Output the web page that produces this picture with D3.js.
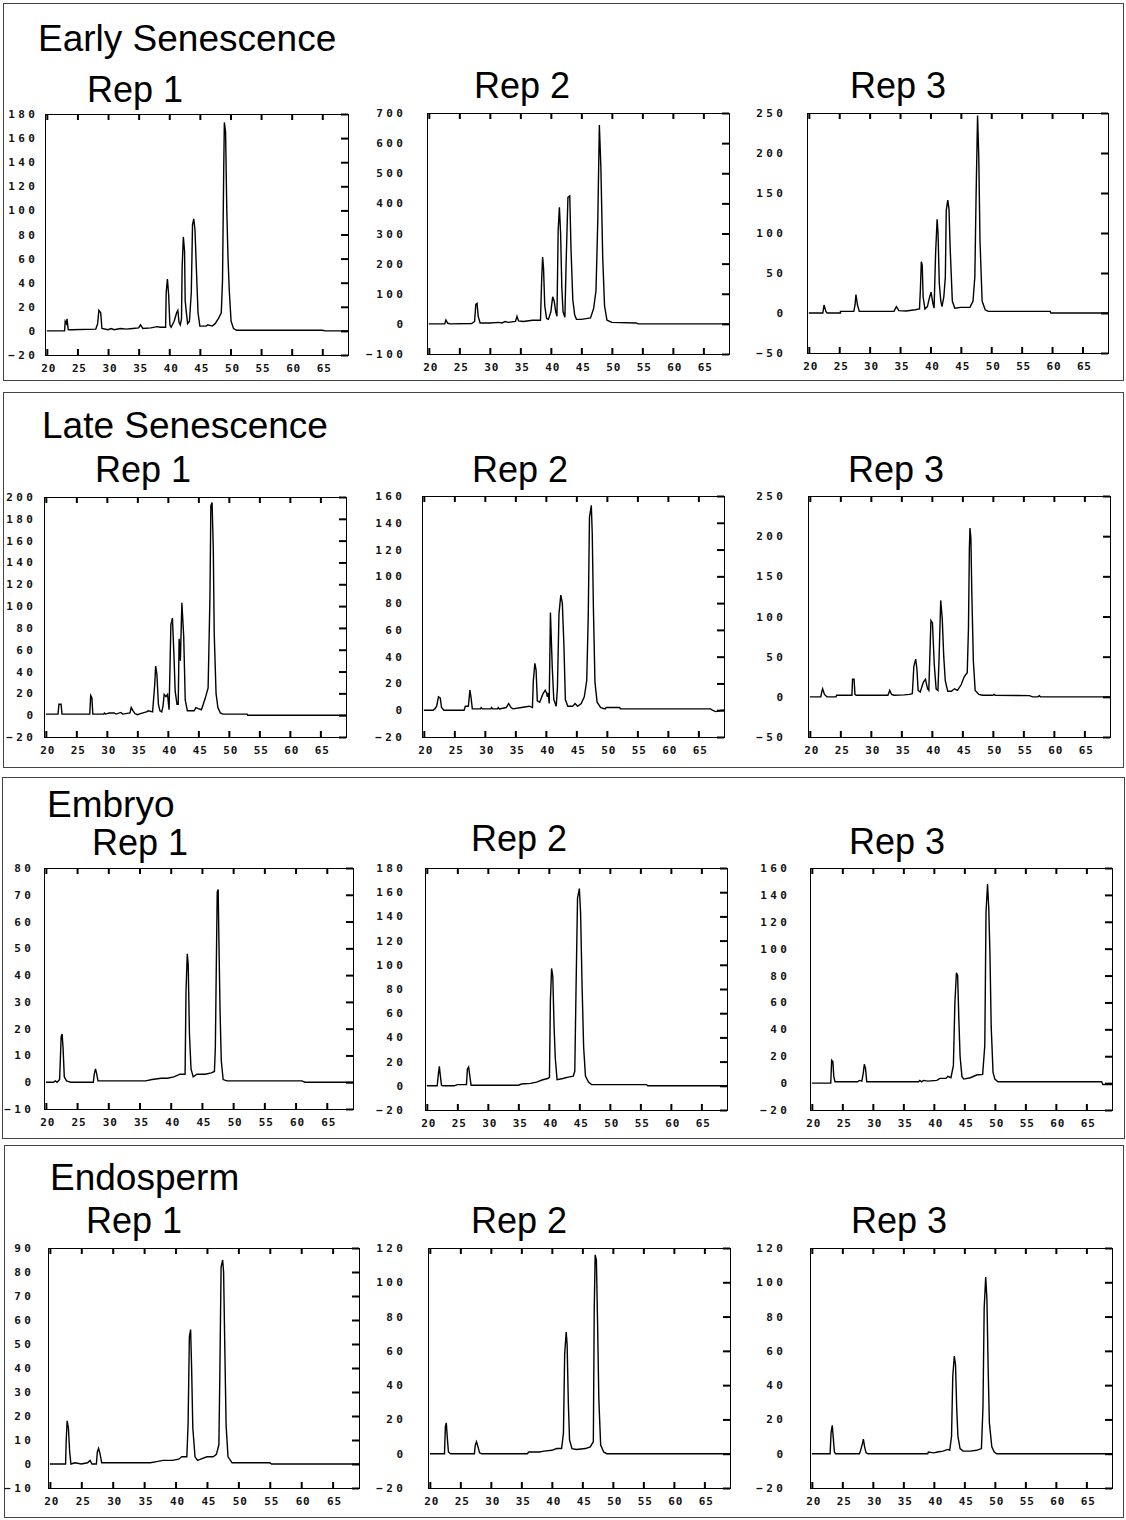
<!DOCTYPE html>
<html>
<head>
<meta charset="utf-8">
<script src="https://cdn.jsdelivr.net/npm/d3@7"></script>
<style>
  body { margin: 0; background: #fff; }
  svg { display: block; }
  .tick text { font-family: "DejaVu Sans Mono", monospace; font-size: 11px; font-weight: bold; fill: #111; }
  .title { font-family: "Liberation Sans", Arial, sans-serif; font-size: 36px; fill: #000; }
  .title.main { font-size: 37px; }
</style>
</head>
<body>
<svg width="1126" height="1520"></svg>
<script>
// Chromatograms: retention time (min) vs detector signal as [time, signal]

const panelTitles = ['Early Senescence', 'Late Senescence', 'Embryo', 'Endosperm'];
const repLabels = ['Rep 1', 'Rep 2', 'Rep 3'];
const xTicks = [20, 25, 30, 35, 40, 45, 50, 55, 60, 65];
const xDomain = [19.7, 69.2];

const yTicks = [
  [-20, 0, 20, 40, 60, 80, 100, 120, 140, 160, 180],
  [-100, 0, 100, 200, 300, 400, 500, 600, 700],
  [-50, 0, 50, 100, 150, 200, 250],
  [-20, 0, 20, 40, 60, 80, 100, 120, 140, 160, 180, 200],
  [-20, 0, 20, 40, 60, 80, 100, 120, 140, 160],
  [-50, 0, 50, 100, 150, 200, 250],
  [-10, 0, 10, 20, 30, 40, 50, 60, 70, 80],
  [-20, 0, 20, 40, 60, 80, 100, 120, 140, 160, 180],
  [-20, 0, 20, 40, 60, 80, 100, 120, 140, 160],
  [-10, 0, 10, 20, 30, 40, 50, 60, 70, 80, 90],
  [-20, 0, 20, 40, 60, 80, 100, 120],
  [-20, 0, 20, 40, 60, 80, 100, 120]
];

const earlyRep1 = [[20,0],[22.9,0],[23.0,8],[23.2,6],[23.3,10],[23.5,1],[24,1],[28,1.5],[28.3,6],[28.5,17],[28.8,15],[29,2],[30,1],[30.5,2],[31,1],[32,2],[33,1.5],[34,2],[35,2.5],[35.3,5],[35.7,2],[37,2.5],[38,3.5],[38.5,3],[39.4,3],[39.5,32],[39.7,43],[39.9,30],[40.1,5],[40.3,3],[40.8,8],[41.2,15],[41.4,17],[41.6,7],[41.8,5],[42.0,10],[42.1,52],[42.3,78],[42.5,66],[42.6,25],[42.8,15],[43.0,6],[43.3,8],[43.6,32],[43.8,88],[44.0,93],[44.2,84],[44.4,56],[44.7,15],[45,4],[46,4],[46.3,5],[47,4],[47.5,6],[48,10],[48.5,15],[48.7,42],[48.9,135],[49.0,173],[49.2,165],[49.4,100],[49.6,60],[49.8,34],[50.1,8],[50.5,2],[51,0.5],[55,0.5],[65,0.5],[65.5,0],[69.2,0]];
const earlyRep2 = [[20,0],[22.6,0],[22.8,13],[23.1,2],[23.5,0],[27,1],[27.5,8],[27.7,65],[27.9,68],[28.1,25],[28.4,3],[30,3],[31.5,5],[32,3],[32.5,8],[33,5],[34.2,8],[34.45,25],[34.7,10],[35.5,8],[37,12],[38.3,12],[38.5,150],[38.65,222],[38.8,185],[39.0,60],[39.3,18],[39.6,15],[40.0,40],[40.3,90],[40.55,75],[40.8,40],[41.0,25],[41.2,310],[41.4,387],[41.6,300],[41.8,120],[42.0,40],[42.3,22],[42.5,200],[42.8,420],[43.1,425],[43.3,250],[43.6,80],[43.9,30],[44.2,15],[45,15],[46.5,20],[47,50],[47.4,110],[47.7,350],[47.95,660],[48.2,520],[48.5,220],[48.8,60],[49.2,12],[50,5],[54,3],[54.3,0],[69.2,0]];
const earlyRep3 = [[20,0],[22.3,0],[22.5,10],[22.8,2],[23,0],[25.2,0],[25.2,2],[27.4,2],[27.6,10],[27.75,23],[28.0,10],[28.3,2],[34,2],[34.4,8],[34.8,3],[36,2.5],[37.5,4],[38.2,5],[38.35,30],[38.5,64],[38.65,60],[38.8,20],[39.1,5],[39.5,8],[39.8,18],[40.1,26],[40.4,12],[40.6,6],[40.85,75],[41.1,117],[41.25,100],[41.45,38],[41.7,15],[41.9,8],[42.2,20],[42.45,45],[42.6,128],[42.85,141],[43.05,130],[43.25,80],[43.6,15],[44,6],[45,7],[46.5,7],[47,15],[47.3,45],[47.5,143],[47.75,247],[47.95,195],[48.15,90],[48.5,15],[49,4],[49.5,2],[59.7,2],[59.8,0],[69.2,0]];

const lateRep1 = [[20,1],[22.0,1],[22.15,10],[22.5,10],[22.65,1],[27.2,1],[27.35,18],[27.55,16],[27.7,1],[29.5,1],[29.6,2],[29.8,1],[30.4,2],[31.2,2],[31.5,1],[32.3,2.5],[32.6,1],[33.8,2],[34.0,7],[34.3,4],[34.6,1.5],[35.0,0.5],[35.5,1.5],[36.5,3],[36.8,4],[37.5,3],[37.85,28],[38.0,45],[38.2,38],[38.45,10],[38.7,4],[39.0,3],[39.2,8],[39.4,19],[39.7,17],[39.95,19],[40.2,5],[40.5,83],[40.75,89],[41.0,55],[41.2,22],[41.5,10],[41.7,10],[41.85,70],[42.05,50],[42.3,103],[42.6,72],[42.85,14],[43.2,4],[44.3,4],[44.6,7],[45,6],[45.5,5],[46.1,15],[46.6,25],[46.9,108],[47.05,192],[47.25,195],[47.45,152],[47.6,75],[47.9,20],[48.2,7],[48.6,2],[49,1],[53,1],[53.1,0],[69.2,0]];
const lateRep2 = [[20,0],[21.5,0],[21.8,1],[22.1,3],[22.4,10],[22.7,9],[22.9,2],[23.3,0],[26.6,0],[26.8,3],[27.3,3],[27.55,15],[27.75,9],[27.95,1],[29.3,1],[29.4,2],[29.6,1],[31,1],[31.1,2],[31.3,1],[32.1,1],[32.2,2],[32.4,1],[33.5,2],[33.9,5],[34.3,2],[34.6,1],[36,2],[37.3,3],[37.8,2],[37.95,22],[38.2,35],[38.4,30],[38.6,7],[39,6],[39.5,12],[39.9,15],[40.1,13],[40.25,10],[40.4,13],[40.55,5],[40.75,73],[41.05,32],[41.3,8],[41.7,3],[41.9,17],[42.15,72],[42.45,86],[42.7,80],[42.95,50],[43.2,8],[43.6,3],[44.4,3],[44.8,5],[45.2,3],[45.8,5],[46.3,10],[46.7,22],[46.95,70],[47.15,144],[47.45,153],[47.6,133],[47.8,75],[48.05,21],[48.4,6],[49,2],[49.7,1],[49.9,2],[52.1,2],[52.2,1],[67,1],[67.3,0],[67.8,-1],[68.8,0],[69.2,0]];
const lateRep3 = [[20,0],[21.8,0],[21.95,6],[22.1,10],[22.4,3],[22.8,0],[24.3,0],[24.4,2],[26.9,2],[27.0,22],[27.25,22],[27.4,3],[27.6,2],[32.8,2],[33.1,8],[33.4,3],[33.8,2],[35.5,2.5],[36.3,3],[36.8,4],[37.05,38],[37.35,47],[37.55,35],[37.75,8],[38.1,6],[38.6,18],[38.95,22],[39.3,10],[39.5,8],[39.65,45],[39.85,95],[40.1,92],[40.4,40],[40.7,10],[41.0,8],[41.2,52],[41.45,120],[41.7,98],[41.95,50],[42.2,20],[42.6,7],[43.2,7],[43.7,10],[44.2,8],[44.8,15],[45.3,25],[45.8,30],[46.0,85],[46.15,185],[46.25,210],[46.4,197],[46.55,130],[46.8,45],[47.1,8],[47.7,3],[48.3,2],[50,2],[50.2,3],[50.4,2],[56,1.5],[56.5,0],[57.4,0],[57.6,1.5],[57.8,0],[69.2,0]];

const embryoRep1 = [[20,0],[21.2,0],[21.5,0.5],[21.8,0],[22.2,1],[22.45,17],[22.6,18],[22.75,13],[22.95,2],[23.3,0.5],[24,0],[27.6,0],[27.75,3],[27.95,5],[28.15,3],[28.35,0.5],[36,0.5],[37,1],[38.5,1.5],[39.5,1.5],[40.5,2],[41.5,3],[42.3,3],[42.45,34],[42.65,48],[42.8,44],[43.0,18],[43.25,5],[43.6,2],[44.2,3],[45.5,3],[46.5,3.5],[47.0,4],[47.15,13],[47.3,43],[47.45,71],[47.6,72],[47.7,56],[47.9,27],[48.1,8],[48.4,1],[49,0.5],[61,0.5],[61.5,0],[69.2,0]];
const embryoRep2 = [[20,0],[21.7,0],[21.9,10],[22.05,16],[22.2,9],[22.4,0.5],[22.6,0],[24.5,0],[25,1],[26.5,1],[26.65,14],[26.85,15.5],[27.05,8],[27.25,0.5],[35,0.5],[35.5,1.5],[37,2],[38,3],[39,5],[39.8,6],[40.1,7],[40.25,70],[40.45,97],[40.65,90],[40.85,50],[41.05,23],[41.35,5],[42.3,6],[43,7],[44,8],[44.25,12],[44.45,78],[44.7,155],[45.0,163],[45.2,143],[45.45,82],[45.7,32],[46.0,8],[46.5,3],[47,1],[56,1],[56.2,0],[69.2,0]];
const embryoRep3 = [[20,0],[23.1,0],[23.25,17],[23.45,16],[23.6,5],[23.8,1],[27.5,1],[27.8,2],[28.2,1.5],[28.45,8],[28.6,14],[28.8,11],[29.0,1],[37.5,1],[37.7,2],[38,1],[38.3,2],[39,1.5],[40.5,2],[41,3.5],[42,3.5],[42.3,5],[42.8,4],[43.2,13],[43.45,60],[43.7,82],[43.9,80],[44.1,47],[44.3,20],[44.6,5],[44.9,3],[46,4],[47,6],[48,6.5],[48.35,28],[48.55,127],[48.8,148],[49.0,130],[49.2,95],[49.4,42],[49.7,8],[50.0,3],[50.5,1],[67.5,1],[67.7,-1],[69.2,-1]];

const endospermRep1 = [[20,0],[22.5,0],[22.6,10],[22.75,18],[22.95,15],[23.15,5],[23.35,0],[24,0.5],[25,0],[26,0.5],[26.4,1.5],[26.7,0],[27.4,0],[27.55,5],[27.75,6.5],[28.0,4],[28.25,0.5],[36,0.5],[37,1],[38,1.5],[39.5,1.5],[40.5,2],[41,3],[41.8,3],[42.0,17],[42.2,53],[42.4,56],[42.55,41],[42.75,15],[43.1,3],[43.5,1.5],[44,2],[45,3],[46,3],[46.5,4],[46.9,8],[47.05,37],[47.25,82],[47.5,85],[47.65,80],[47.85,47],[48.05,16],[48.35,3],[49,0.5],[55,0.5],[55.3,0],[69.2,0]];
const endospermRep2 = [[20,0],[22.4,0],[22.55,16],[22.7,18],[22.85,10],[23.05,1],[23.4,0],[27.3,0],[27.45,5],[27.65,7],[27.9,4],[28.15,0.5],[28.5,0],[36,0],[36.2,1],[38,1],[38.7,1.5],[40,2],[40.8,3],[41.6,3],[41.9,12],[42.1,58],[42.35,71],[42.5,64],[42.7,30],[42.9,8],[43.3,3],[44,2.5],[45.5,3],[46.3,4],[46.8,7],[46.95,85],[47.1,116],[47.3,113],[47.5,75],[47.7,32],[48.0,5],[48.5,1],[49,0],[69.2,0]];
const endospermRep3 = [[20,0],[23.0,0],[23.15,12],[23.35,16.5],[23.5,10],[23.7,1],[23.9,0],[27.8,0],[28.0,2],[28.3,6],[28.45,8.5],[28.65,4],[28.9,0.5],[29.2,0],[39,0],[39.1,1],[40,0.5],[40.6,1],[41.5,1.5],[42.3,2.5],[42.6,2],[42.9,10],[43.1,45],[43.35,57],[43.55,52],[43.75,26],[43.95,10],[44.3,3],[44.8,1.5],[46,1.5],[47,2],[47.8,3],[48.05,27],[48.25,85],[48.5,103],[48.7,90],[48.9,50],[49.1,18],[49.5,4],[49.9,1],[50.3,0],[69.2,0]];

const traces = [earlyRep1, earlyRep2, earlyRep3, lateRep1, lateRep2, lateRep3,
  embryoRep1, embryoRep2, embryoRep3, endospermRep1, endospermRep2, endospermRep3];

// layout: panel frames, title baselines and each plot box [left, top, right, bottom]
const frames = [[3, 3, 1123, 380], [3, 392, 1123, 767], [2, 777, 1124, 1138], [4, 1145, 1123, 1517]];
const titlePos = [[38, 51], [42, 438], [47, 817], [50, 1190]];
const repPos = [
  [[87, 102], [474, 98], [850, 98]],
  [[95, 482], [472, 482], [848, 482]],
  [[92, 855], [471, 851], [849, 854]],
  [[86, 1233], [471, 1233], [851, 1233]]
];
const boxes = [
  [45, 114, 348, 355], [427, 113, 729, 354], [807, 113, 1108, 353],
  [44, 497, 346, 737], [422, 496, 724, 737], [808, 496, 1110, 737],
  [44, 868, 353, 1109], [425, 868, 727, 1110], [810, 868, 1112, 1110],
  [48, 1248, 359, 1488], [428, 1248, 730, 1488], [810, 1248, 1112, 1488]
];
// right edge of the y tick label text
const yLabelRight = [35, 403, 783, 33, 402, 783, 31, 403, 787, 31, 403, 783];

const svg = d3.select('svg');

// panel frames and titles
frames.forEach(([x1, y1, x2, y2], p) => {
  svg.append('rect')
    .attr('x', x1 + 0.5).attr('y', y1 + 0.5)
    .attr('width', x2 - x1).attr('height', y2 - y1)
    .attr('fill', 'none').attr('stroke', '#444').attr('stroke-width', 1);

  svg.append('text').attr('class', 'title main')
    .attr('x', titlePos[p][0]).attr('y', titlePos[p][1])
    .text(panelTitles[p]);

  repLabels.forEach((r, i) => {
    svg.append('text').attr('class', 'title')
      .attr('x', repPos[p][i][0]).attr('y', repPos[p][i][1])
      .text(r);
  });
});

const yLs = 3.5;  // y labels are widely spaced
const xLs = 0.8;

traces.forEach((data, i) => {
  const [l, t, r, b] = boxes[i];
  const ticks = yTicks[i];

  const x = d3.scaleLinear().domain(xDomain).range([l, r]);
  const y = d3.scaleLinear().domain([ticks[0], ticks[ticks.length - 1]]).range([b, t]);

  const g = svg.append('g');

  // left: labels only
  const left = g.append('g')
    .attr('transform', `translate(${l},0)`)
    .call(d3.axisLeft(y).tickValues(ticks).tickSize(0)
      .tickPadding(l - yLabelRight[i] - yLs));
  left.select('.domain').remove();
  left.selectAll('text').attr('letter-spacing', yLs);

  // bottom: inward ticks + labels
  const bottom = g.append('g')
    .attr('transform', `translate(0,${b})`)
    .call(d3.axisBottom(x).tickValues(xTicks).tickSizeInner(-6).tickSizeOuter(0).tickPadding(9));
  bottom.select('.domain').remove();
  bottom.selectAll('text').attr('letter-spacing', xLs).attr('dx', xLs / 2 + 1);

  // top and right: inward ticks only
  const top = g.append('g')
    .attr('transform', `translate(0,${t})`)
    .call(d3.axisTop(x).tickValues(xTicks).tickSizeInner(-6).tickSizeOuter(0).tickFormat(''));
  top.select('.domain').remove();

  const right = g.append('g')
    .attr('transform', `translate(${r},0)`)
    .call(d3.axisRight(y).tickValues(ticks).tickSizeInner(-7).tickSizeOuter(0).tickFormat(''));
  right.select('.domain').remove();

  g.selectAll('.tick line').attr('stroke', '#000').attr('stroke-width', 2);

  // trace
  g.append('path')
    .datum(data)
    .attr('fill', 'none')
    .attr('stroke', '#000')
    .attr('stroke-width', 1.4)
    .attr('stroke-linejoin', 'miter')
    .attr('d', d3.line().x(d => x(d[0])).y(d => y(d[1])));

  // frame
  g.append('rect')
    .attr('x', l + 0.5).attr('y', t + 0.5)
    .attr('width', r - l).attr('height', b - t)
    .attr('fill', 'none').attr('stroke', '#000').attr('stroke-width', 1);
});
</script>
</body>
</html>
